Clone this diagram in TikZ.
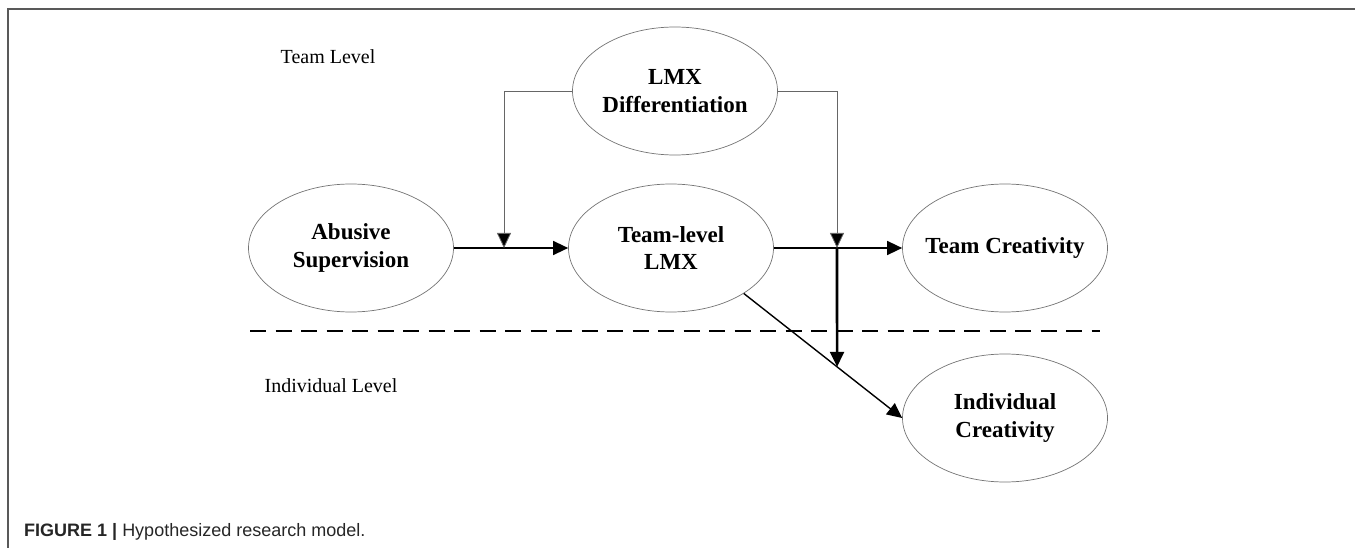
\documentclass[tikz,border=0pt]{standalone}
\usepackage{fontspec}
\setmainfont{Liberation Serif}
\newfontfamily\capfont{Liberation Sans}
\usetikzlibrary{shapes.geometric,arrows.meta,calc}
\tikzset{
  construct/.style={ellipse, draw=black!55, line width=0.7pt, minimum width=205pt, minimum height=128pt, inner ysep=0pt, inner xsep=-12pt, align=center, font=\fontsize{23}{27.5}\selectfont\bfseries},
  levellabel/.style={font=\fontsize{20}{23}\selectfont, inner sep=0pt},
  mainarrow/.style={line width=1.4pt, -{Triangle[length=15pt,width=14pt]}},
  modarrow/.style={draw=black!60, line width=0.8pt, -{Triangle[length=15pt,width=14pt,fill=black]}},
  thickarrow/.style={line width=2.6pt, -{Triangle[length=15pt,width=14pt]}},
  divider/.style={line width=2.6pt, dash pattern=on 16pt off 9.5pt},
  frameline/.style={draw=black!65, line width=1.4pt}
}
\begin{document}
\begin{tikzpicture}[x=1pt,y=-1pt]
\useasboundingbox (0,0) rectangle (1355,548);
% frame
\coordinate (fr1) at (1355,9);
\coordinate (fr2) at (8,9);
\coordinate (fr3) at (8,548);
\draw[frameline] (fr1) -- (fr2) -- (fr3);
% level labels
\node[levellabel] (teamlevel) at (328,57) {Team Level};
\node[levellabel] (indlevel) at (331,386) {Individual Level};
% constructs
\node[construct] (as) at (351,248) {Abusive\\Supervision};
\node[construct] (tl) at (671,248) {Team-level\\LMX};
\node[construct] (ld) at (675,91) {LMX\\Differentiation};
\node[construct] (tc) at (1005,248) {Team Creativity};
\node[construct] (ic) at (1005,418) {Individual\\Creativity};
% divider
\coordinate (dv1) at (250,331);
\coordinate (dv2) at (1100,331);
\draw[divider] (dv1) -- (dv2);
% main paths
\draw[mainarrow] (as) -- (tl);
\draw[mainarrow] (tl) -- (tc);
\coordinate (d1) at (tl.-32);
\coordinate (d2) at (ic.west);
\draw[mainarrow] (d1) -- (d2);
% moderation
\coordinate (m1) at (504,248);
\coordinate (m2) at (837,248);
\coordinate (v1) at (837,0);
\coordinate (m3) at (intersection of d1--d2 and m2--v1);
\draw[modarrow] (ld.west) -| (m1);
\draw[modarrow] (ld.east) -| (m2);
\draw[thickarrow] (m2) -- (m3);
% caption
\node[anchor=base west, inner sep=0pt, text=black!85, font=\capfont\fontsize{18}{22}\selectfont] (cap) at (24,536) {\textbf{FIGURE 1 |} Hypothesized research model.};
\end{tikzpicture}
\end{document}
